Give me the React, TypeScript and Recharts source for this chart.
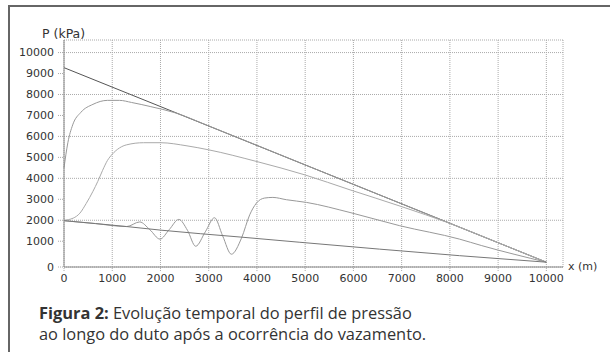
import { CartesianGrid, Line, LineChart, XAxis, YAxis } from 'recharts'

// pressure profiles P (kPa) along the pipe x (m), one array per instant
const STEADY: [number, number][] = [
  [0, 9280],
  [10000, 0],
]

const T1: [number, number][] = [
  [0, 4500], [80, 5700], [180, 6550], [350, 7150], [600, 7530], [900, 7720],
  [1150, 7720], [1400, 7620], [1800, 7420], [2300, 7130], [3000, 6500],
  [5000, 4640], [7000, 2784], [10000, 0],
]

const T2: [number, number][] = [
  [0, 2000], [190, 2100], [330, 2340], [460, 2800], [600, 3380], [700, 3850],
  [800, 4380], [900, 4850], [1000, 5150], [1150, 5450], [1300, 5600],
  [1650, 5700], [2000, 5700], [2550, 5550], [3000, 5360], [4000, 4800],
  [5000, 4160], [5930, 3450], [7000, 2650], [8000, 1850], [9000, 928], [10000, 0],
]

const T3: [number, number][] = [
  [0, 1980], [650, 1840], [1300, 1700], [1570, 1920], [1780, 1550], [1990, 1100],
  [2180, 1550], [2380, 2040], [2560, 1520], [2730, 760], [2930, 1450],
  [3120, 2120], [3290, 1250], [3470, 380], [3680, 1150], [3850, 2260],
  [3990, 2820], [4160, 3060], [4330, 3090], [4610, 2980], [5030, 2850],
  [5930, 2370], [6960, 1740], [8200, 1100], [8660, 790], [10000, 0],
]

const FINAL: [number, number][] = [
  [0, 1980], [1300, 1700], [2000, 1530], [3650, 1200], [4890, 950],
  [8200, 310], [10000, 0],
]

const X_TICKS = [0, 1000, 2000, 3000, 4000, 5000, 6000, 7000, 8000, 9000, 10000]
const Y_MIN = -230
const Y_TICKS = [Y_MIN, 1000, 2000, 3000, 4000, 5000, 6000, 7000, 8000, 9000, 10000]

const SERIES = [
  { key: 'steady', points: STEADY, color: '#555' },
  { key: 't1', points: T1, color: '#999' },
  { key: 't2', points: T2, color: '#aaa' },
  { key: 't3', points: T3, color: '#999' },
  { key: 'final', points: FINAL, color: '#777' },
]

const TICK_STYLE = { fill: '#333', fontSize: 11, fontFamily: 'DejaVu Sans' }
const GRID_TICK = { stroke: '#aaa', strokeDasharray: '1 1' }

export default function App() {
  return (
    <div
      style={{
        position: 'absolute',
        left: 0,
        top: 0,
        width: 610,
        height: 352,
        background: '#fff',
        overflow: 'hidden',
      }}
    >
      <div
        style={{
          position: 'absolute',
          left: 8,
          top: 5,
          width: 602,
          height: 347,
          borderTop: '2px solid #666',
          borderLeft: '2px solid #666',
        }}
      />
      <div style={{ position: 'absolute', left: 0, top: 0 }}>
        <LineChart width={610} height={300} margin={{ top: 40, right: 47, bottom: 3, left: 0 }}>
          <CartesianGrid stroke="#aaa" strokeDasharray="1 1" />
          <XAxis
            type="number"
            dataKey="x"
            domain={[0, 10345]}
            ticks={X_TICKS}
            height={30}
            tick={TICK_STYLE}
            tickSize={4}
            tickMargin={3}
            tickLine={GRID_TICK}
            axisLine={{ stroke: '#888' }}
          />
          <YAxis
            type="number"
            dataKey="p"
            domain={[Y_MIN, 10600]}
            ticks={Y_TICKS}
            tickFormatter={(v: number) => (v === Y_MIN ? '0' : String(v))}
            width={64}
            tick={TICK_STYLE}
            tickSize={6}
            tickMargin={4}
            tickLine={GRID_TICK}
            axisLine={{ stroke: '#888' }}
          />
          {SERIES.map(s => (
            <Line
              key={s.key}
              data={s.points.map(([x, p]) => ({ x, p }))}
              dataKey="p"
              type="monotone"
              stroke={s.color}
              strokeWidth={1}
              dot={false}
              activeDot={false}
              isAnimationActive={false}
            />
          ))}
        </LineChart>
      </div>
      <div
        style={{
          position: 'absolute',
          left: 42,
          top: 26,
          fontFamily: 'DejaVu Sans',
          fontSize: 12.5,
          color: '#333',
          whiteSpace: 'nowrap',
        }}
      >
        P (kPa)
      </div>
      <div
        style={{
          position: 'absolute',
          left: 568,
          top: 260,
          fontFamily: 'DejaVu Sans',
          fontSize: 11,
          color: '#333',
          whiteSpace: 'nowrap',
        }}
      >
        x (m)
      </div>
      <div
        style={{
          position: 'absolute',
          left: 39,
          top: 302,
          fontFamily: 'Open Sans',
          fontSize: 16.4,
          lineHeight: '21px',
          color: '#333',
          whiteSpace: 'nowrap',
        }}
      >
        <b style={{ fontWeight: 700 }}>Figura 2:</b> Evolução temporal do perfil de pressão
        <br />
        ao longo do duto após a ocorrência do vazamento.
      </div>
    </div>
  )
}
